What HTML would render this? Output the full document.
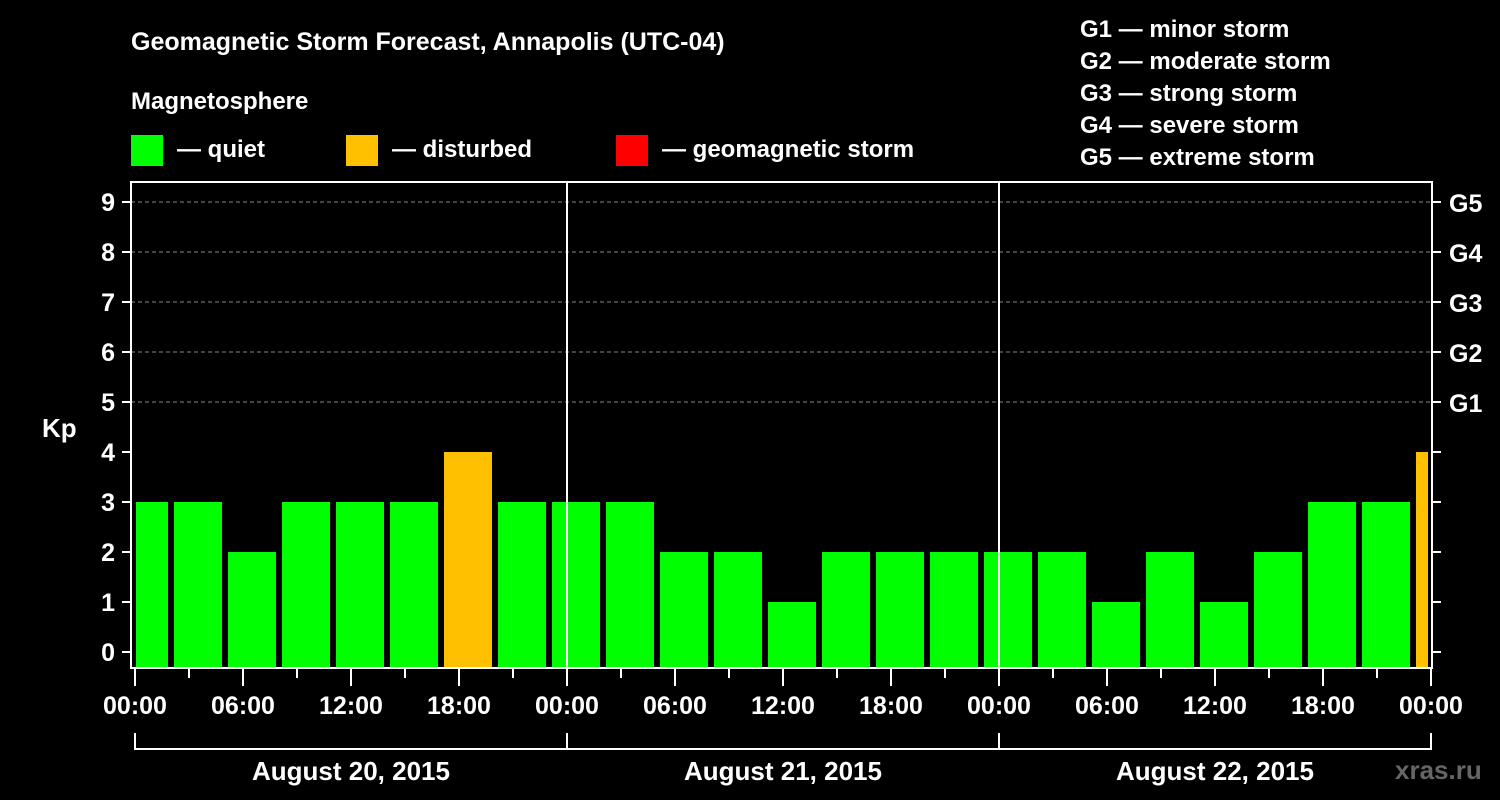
<!DOCTYPE html>
<html><head><meta charset="utf-8"><style>
html,body{margin:0;padding:0;background:#000;}
svg{display:block;font-family:"Liberation Sans",Arial,sans-serif;font-weight:bold;}
</style></head><body>
<svg id="chart" width="1500" height="800" viewBox="0 0 1500 800">
<rect x="0" y="0" width="1500" height="800" fill="#000"/>
<text x="131" y="50" fill="#fff" font-size="25">Geomagnetic Storm Forecast, Annapolis (UTC-04)</text>
<text x="131" y="109" fill="#fff" font-size="24">Magnetosphere</text>
<g><rect x="131" y="135" width="32" height="31" fill="#00ff00"/><text x="177" y="157" fill="#fff" font-size="24">— quiet</text></g>
<g><rect x="346" y="135" width="32" height="31" fill="#ffc000"/><text x="392" y="157" fill="#fff" font-size="24">— disturbed</text></g>
<g><rect x="616" y="135" width="32" height="31" fill="#ff0000"/><text x="662" y="157" fill="#fff" font-size="24">— geomagnetic storm</text></g>
<g fill="#fff" font-size="24">
<text x="1080" y="37">G1 — minor storm</text>
<text x="1080" y="69">G2 — moderate storm</text>
<text x="1080" y="101">G3 — strong storm</text>
<text x="1080" y="133">G4 — severe storm</text>
<text x="1080" y="165">G5 — extreme storm</text>
</g>
<text x="42" y="437" fill="#fff" font-size="26">Kp</text>
<text x="1395" y="779" fill="#666" font-size="26">xras.ru</text>
<defs><clipPath id="pc"><rect x="136" y="182" width="1292" height="486"/></clipPath></defs>
<g id="grid"></g>
<g id="bars" clip-path="url(#pc)"></g>
<g id="axes"></g>
</svg>
<script>
const kpValues = [3,3,2,3,3,3,4,3,3,3,2,2,1,2,2,2,2,2,1,2,1,2,3,3,4];
const yTicks = [0,1,2,3,4,5,6,7,8,9];
const gLabels = ["G1","G2","G3","G4","G5"];
const xTickLabels = ["00:00","06:00","12:00","18:00","00:00","06:00","12:00","18:00","00:00","06:00","12:00","18:00","00:00"];
const dayLabels = ["August 20, 2015","August 21, 2015","August 22, 2015"];
const NS="http://www.w3.org/2000/svg";
const X0=135, HOUR=18, Y0=652, KP=50, BOTTOM=668, TOP=182, LEFT=131, RIGHT=1432;
const xs=h=>X0+h*HOUR, ys=k=>Y0-k*KP;
function mk(tag,attrs,parent,text){const e=document.createElementNS(NS,tag);for(const k in attrs)e.setAttribute(k,attrs[k]);if(text!==undefined)e.textContent=text;parent.appendChild(e);return e;}
const grid=document.getElementById('grid'),bars=document.getElementById('bars'),axes=document.getElementById('axes');
// dashed grid for 5..9
for(let k=5;k<=9;k++){const l=mk('line',{x1:LEFT,x2:RIGHT,y1:ys(k),y2:ys(k),stroke:'#888','stroke-dasharray':'4,3','stroke-width':1},grid);

}
kpValues.forEach((v,i)=>{const x=xs(i*3-1)+3;const color=v>=5?'#ff0000':(v>=4?'#ffc000':'#00ff00');
const r=mk('rect',{x:x,y:ys(v),width:48,height:BOTTOM-ys(v),fill:color},bars);

});
// day separators
[1,2].forEach(d=>{const l=mk('line',{x1:xs(d*24),x2:xs(d*24),y1:TOP,y2:BOTTOM,stroke:'#fff','stroke-width':2},axes);

});
// frame
const fr=mk('rect',{x:LEFT,y:TOP,width:RIGHT-LEFT,height:BOTTOM-TOP,fill:'none',stroke:'#fff','stroke-width':2},axes);


yTicks.forEach(k=>{mk('line',{x1:122,x2:LEFT,y1:ys(k),y2:ys(k),stroke:'#fff','stroke-width':2},axes);
mk('line',{x1:RIGHT,x2:1441,y1:ys(k),y2:ys(k),stroke:'#fff','stroke-width':2},axes);
const t=mk('text',{x:115,y:ys(k)+9,fill:'#fff','font-size':25,'text-anchor':'end'},axes,String(k));

});
gLabels.forEach((g,i)=>{const t=mk('text',{x:1449,y:ys(5+i)+10,fill:'#fff','font-size':25},axes,g);

});
for(let h=0;h<=72;h+=3){const major=h%6===0;mk('line',{x1:xs(h),x2:xs(h),y1:BOTTOM,y2:major?686:678,stroke:'#fff','stroke-width':2},axes);}
xTickLabels.forEach((s,i)=>{const t=mk('text',{x:xs(i*6),y:714,fill:'#fff','font-size':25,'text-anchor':'middle'},axes,s);

});
mk('line',{x1:xs(0),x2:xs(72),y1:749,y2:749,stroke:'#fff','stroke-width':2},axes);
for(let d=0;d<=3;d++)mk('line',{x1:xs(d*24),x2:xs(d*24),y1:733,y2:750,stroke:'#fff','stroke-width':2},axes);
dayLabels.forEach((s,i)=>{const t=mk('text',{x:xs(i*24+12),y:780,fill:'#fff','font-size':26,'text-anchor':'middle'},axes,s);

});
</script>
</body></html>
